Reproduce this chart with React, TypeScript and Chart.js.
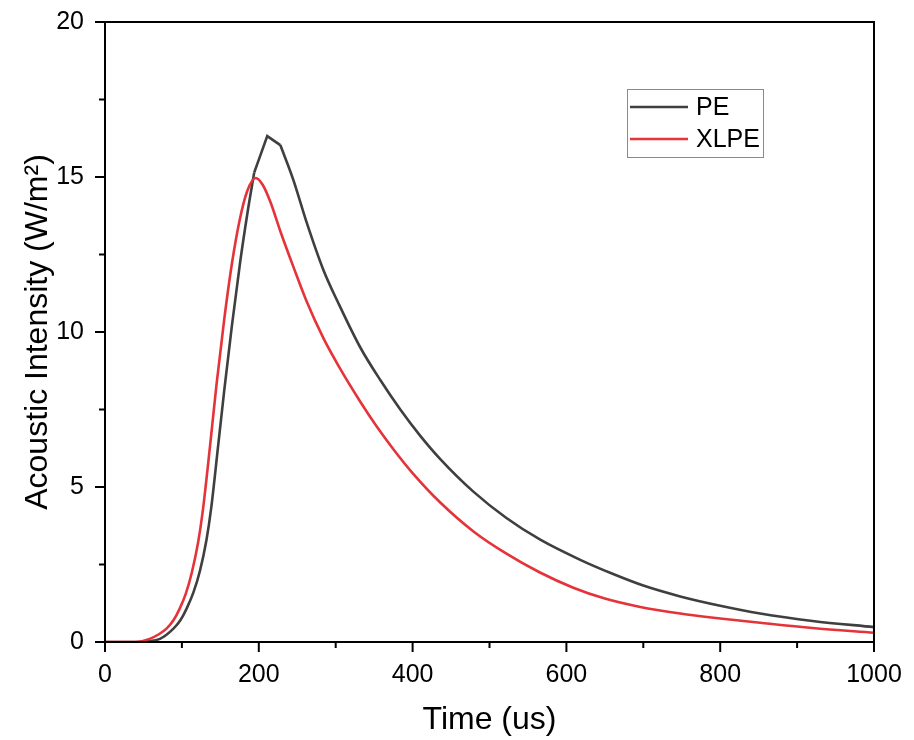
import { useEffect, useRef } from "react";
import { Chart, registerables } from "chart.js";

Chart.register(...registerables);

// Time (us) and acoustic intensity (W/m²)
const peTime = [0, 40, 55, 71.5, 89, 98, 106, 115, 123.5, 132, 138, 147, 155, 165, 176, 185, 194, 211, 228, 245, 262, 284, 305, 332, 358, 384, 410, 436, 479, 522, 566, 618, 660, 700, 748, 800, 852, 920, 1000];
const peIntensity = [0, 0, 0.02, 0.1, 0.43, 0.7, 1.07, 1.6, 2.3, 3.3, 4.3, 6.3, 8.1, 10.2, 12.3, 13.8, 15.14, 16.32, 16.03, 14.9, 13.55, 12.0, 10.85, 9.5, 8.45, 7.5, 6.65, 5.9, 4.85, 4.0, 3.3, 2.65, 2.2, 1.82, 1.47, 1.17, 0.92, 0.68, 0.48];

const xlpeTime = [0, 40, 58, 70, 80, 89, 97, 105, 113, 121, 127, 136.5, 145, 155, 165, 175, 185, 196, 205, 215, 228, 245, 262, 284, 305, 332, 352, 375, 400, 436, 480, 522, 565, 609, 650, 696, 748, 800, 852, 920, 1000];
const xlpeIntensity = [0, 0, 0.1, 0.25, 0.43, 0.7, 1.07, 1.55, 2.25, 3.2, 4.2, 6.3, 8.3, 10.4, 12.2, 13.6, 14.55, 14.97, 14.75, 14.2, 13.25, 12.1, 11.0, 9.8, 8.85, 7.75, 7.0, 6.22, 5.45, 4.5, 3.55, 2.85, 2.25, 1.75, 1.4, 1.13, 0.92, 0.76, 0.62, 0.45, 0.3];

// PE shows a sharp, straight-segment peak between these times
const pePeakStart = 194;
const pePeakEnd = 228;

const seriesLabels = ["PE", "XLPE"];
const seriesColors = ["#3f3f3f", "#e5333a"];

const xTicks = [0, 200, 400, 600, 800, 1000];
const yTicks = [0, 5, 10, 15, 20];

const xTitle = "Time (us)";
const yTitle = "Acoustic Intensity (W/m²)";

const FONT = "Arial, 'Liberation Sans', sans-serif";

const framePlugin = {
  id: "frame",
  afterDraw(chart: any) {
    const { ctx, chartArea: a, scales } = chart;
    const xs = scales.x;
    const ys = scales.y;
    ctx.save();
    ctx.strokeStyle = "#000";
    ctx.lineWidth = 2;
    ctx.strokeRect(a.left, a.top, a.right - a.left, a.bottom - a.top);
    const xStep = xTicks[1] - xTicks[0];
    for (let i = 0; i < xTicks.length; i++) {
      const v = xTicks[i];
      let px = xs.getPixelForValue(v);
      ctx.beginPath();
      ctx.moveTo(px, a.bottom);
      ctx.lineTo(px, a.bottom + 10);
      ctx.stroke();
      if (i < xTicks.length - 1) {
        px = xs.getPixelForValue(v + xStep / 2);
        ctx.beginPath();
        ctx.moveTo(px, a.bottom);
        ctx.lineTo(px, a.bottom + 6);
        ctx.stroke();
      }
    }
    const yStep = yTicks[1] - yTicks[0];
    for (let i = 0; i < yTicks.length; i++) {
      const v = yTicks[i];
      let py = ys.getPixelForValue(v);
      ctx.beginPath();
      ctx.moveTo(a.left, py);
      ctx.lineTo(a.left - 10, py);
      ctx.stroke();
      if (i < yTicks.length - 1) {
        py = ys.getPixelForValue(v + yStep / 2);
        ctx.beginPath();
        ctx.moveTo(a.left, py);
        ctx.lineTo(a.left - 6, py);
        ctx.stroke();
      }
    }
    // legend box
    const bx = a.left + 522;
    const by = a.top + 67;
    const bw = 136;
    const bh = 68;
    ctx.lineWidth = 1;
    ctx.strokeStyle = "#8a8a8a";
    ctx.strokeRect(bx + 0.5, by + 0.5, bw, bh);
    ctx.font = `25px ${FONT}`;
    ctx.textBaseline = "middle";
    ctx.textAlign = "left";
    seriesLabels.forEach((label, i) => {
      const y = by + 18 + i * 32;
      ctx.strokeStyle = seriesColors[i];
      ctx.lineWidth = 2.5;
      ctx.beginPath();
      ctx.moveTo(bx + 3, y);
      ctx.lineTo(bx + 61, y);
      ctx.stroke();
      ctx.fillStyle = "#000";
      ctx.fillText(label, bx + 69, y + 1);
    });
    ctx.restore();
  },
};

function points(ts: number[], vs: number[], from: number, to: number) {
  const out: { x: number; y: number }[] = [];
  ts.forEach((t, i) => {
    if (t >= from && t <= to) out.push({ x: t, y: vs[i] });
  });
  return out;
}

export default function App() {
  const ref = useRef<HTMLCanvasElement | null>(null);
  useEffect(() => {
    document.body.style.margin = "0";
    const canvas = ref.current;
    if (!canvas) return;
    const lineBase = {
      borderWidth: 2.6,
      pointRadius: 0,
      fill: false,
    };
    const chart = new Chart(canvas, {
      type: "line",
      data: {
        datasets: [
          {
            ...lineBase,
            label: seriesLabels[1],
            data: points(xlpeTime, xlpeIntensity, -Infinity, Infinity),
            borderColor: seriesColors[1],
            backgroundColor: seriesColors[1],
            cubicInterpolationMode: "monotone",
          },
          {
            ...lineBase,
            label: seriesLabels[0],
            data: points(peTime, peIntensity, -Infinity, pePeakStart),
            borderColor: seriesColors[0],
            backgroundColor: seriesColors[0],
            cubicInterpolationMode: "monotone",
          },
          {
            ...lineBase,
            label: seriesLabels[0],
            data: points(peTime, peIntensity, pePeakStart, pePeakEnd),
            borderColor: seriesColors[0],
            backgroundColor: seriesColors[0],
            tension: 0,
          },
          {
            ...lineBase,
            label: seriesLabels[0],
            data: points(peTime, peIntensity, pePeakEnd, Infinity),
            borderColor: seriesColors[0],
            backgroundColor: seriesColors[0],
            cubicInterpolationMode: "monotone",
          },
        ],
      },
      options: {
        animation: false,
        responsive: false,
        maintainAspectRatio: false,
        layout: { padding: { left: 0, top: 22, right: 40, bottom: 0 } },
        plugins: { legend: { display: false }, tooltip: { enabled: false } },
        scales: {
          x: {
            type: "linear",
            min: xTicks[0],
            max: xTicks[xTicks.length - 1],
            afterBuildTicks: (s: any) => {
              s.ticks = xTicks.map((v) => ({ value: v }));
            },
            afterFit: (s: any) => {
              s.height = 98;
              s.paddingLeft = 0;
              s.paddingRight = 0;
            },
            grid: { display: false, drawTicks: false },
            border: { display: false },
            ticks: {
              padding: 18,
              color: "#000",
              font: { family: FONT, size: 25 },
              maxRotation: 0,
              callback: (v: any) => String(v),
            },
            title: {
              display: true,
              text: xTitle,
              color: "#000",
              font: { family: FONT, size: 32 },
              padding: { top: 0, bottom: 1 },
            },
          },
          y: {
            type: "linear",
            min: yTicks[0],
            max: yTicks[yTicks.length - 1],
            afterBuildTicks: (s: any) => {
              s.ticks = yTicks.map((v) => ({ value: v }));
            },
            afterFit: (s: any) => {
              s.width = 105;
              s.paddingTop = 0;
              s.paddingBottom = 0;
            },
            grid: { display: false, drawTicks: false },
            border: { display: false },
            ticks: {
              padding: 21,
              color: "#000",
              font: { family: FONT, size: 25 },
              callback: (v: any) => String(v),
            },
            title: {
              display: true,
              text: yTitle,
              color: "#000",
              font: { family: FONT, size: 32 },
              padding: { top: 19, bottom: 0 },
            },
          },
        },
      },
      plugins: [framePlugin],
    } as any);
    return () => chart.destroy();
  }, []);
  return (
    <div style={{ position: "absolute", left: 0, top: 0, width: 914, height: 740, background: "#fff" }}>
      <canvas ref={ref} width={914} height={740} style={{ width: 914, height: 740, display: "block" }} />
    </div>
  );
}
